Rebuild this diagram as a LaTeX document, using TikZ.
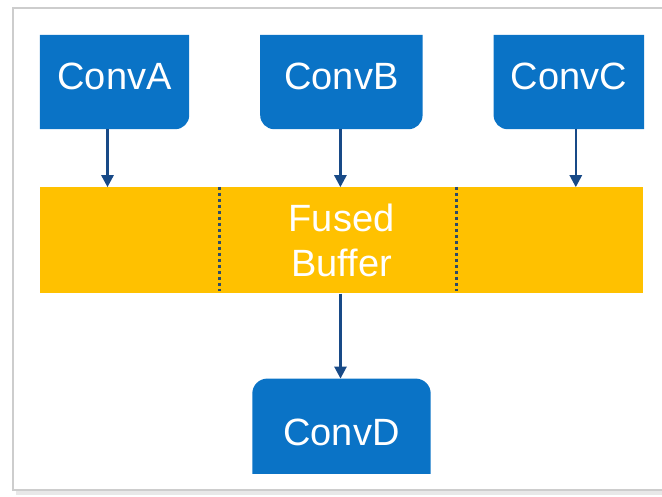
\documentclass[tikz,border=0pt]{standalone}
\usepackage{fontspec}
\setmainfont{Liberation Sans}
\usepackage{tikz}
\usetikzlibrary{arrows.meta, positioning, backgrounds}
\definecolor{myblue}{RGB}{10,115,198}
\definecolor{myyellow}{RGB}{255,193,0}
\definecolor{myarrow}{RGB}{24,74,135}
\definecolor{myslate}{RGB}{45,75,105}
\definecolor{mgframe}{RGB}{205,205,205}
\definecolor{mgshadow}{RGB}{232,232,232}
\tikzset{
  convbox/.style={rectangle, minimum height=94pt, inner sep=0pt,
    text=white, font=\fontsize{38}{45}\selectfont},
  bufbox/.style={rectangle, fill=myyellow, minimum width=603pt,
    minimum height=106pt, inner sep=0pt, align=center,
    text=white, font=\fontsize{38}{45}\selectfont},
  arrow/.style={-{Triangle[width=12pt,length=12pt]}, line width=2.6pt, color=myarrow},
  sepline/.style={myslate, line width=3pt, dash pattern=on 3pt off 3pt}
}

\begin{document}
\begin{tikzpicture}[x=1pt, y=1pt]
  \useasboundingbox (0,0) rectangle (662,497);

  % Frame
  \draw[mgshadow, line width=4pt] (16,4) -- (662,4);
  \draw[mgframe, line width=1.5pt] (13,7) rectangle (680,489);

  % Top boxes
  \node[convbox, minimum width=149pt, text depth=12pt] (convA) at (114.5,415) {ConvA};
  \node[convbox, minimum width=162pt, text depth=12pt, right=71pt of convA] (convB) {ConvB};
  \node[convbox, minimum width=150pt, text depth=12pt, right=71pt of convB] (convC) {ConvC};

  % Buffer
  \node[bufbox, below right=58pt and 0pt of convA.south west] (buffer) {Fused\\Buffer};
  \draw[sepline] (219,310) -- (219,206);
  \draw[sepline] (456,310) -- (456,206);

  % Bottom box
  \node[convbox, minimum width=178pt, minimum height=95pt, text height=39pt, text depth=0pt,
    below=85pt of buffer] (convD) {ConvD};

  % Box shapes
  \begin{scope}[on background layer]
    \fill[myblue] (convA.north west) -- (convA.north east)
      -- ([yshift=14pt]convA.south east) arc[start angle=0, end angle=-90, radius=14pt]
      -- (convA.south west) -- cycle;
    \fill[myblue] (convB.north west) -- (convB.north east)
      -- ([yshift=14pt]convB.south east) arc[start angle=0, end angle=-90, radius=14pt]
      -- ([xshift=14pt]convB.south west) arc[start angle=270, end angle=180, radius=14pt]
      -- cycle;
    \fill[myblue] (convC.north west) -- (convC.north east) -- (convC.south east)
      -- ([xshift=14pt]convC.south west) arc[start angle=270, end angle=180, radius=14pt]
      -- cycle;
    \fill[myblue] (convD.south west)
      -- ([yshift=-15pt]convD.north west) arc[start angle=180, end angle=90, radius=15pt]
      -- ([xshift=-15pt]convD.north east) arc[start angle=90, end angle=0, radius=15pt]
      -- (convD.south east) -- cycle;
  \end{scope}

  % Arrows
  \draw[arrow] ([xshift=-7pt]convA.south) -- ([xshift=-7pt]convA.south |- buffer.north);
  \draw[arrow] ([xshift=-1pt]convB.south) -- ([xshift=-1pt]convB.south |- buffer.north);
  \draw[arrow] ([xshift=7pt]convC.south) -- ([xshift=7pt]convC.south |- buffer.north);
  \draw[arrow] ([xshift=-1pt]buffer.south) -- ([xshift=-1pt]buffer.south |- convD.north);

\end{tikzpicture}
\end{document}
